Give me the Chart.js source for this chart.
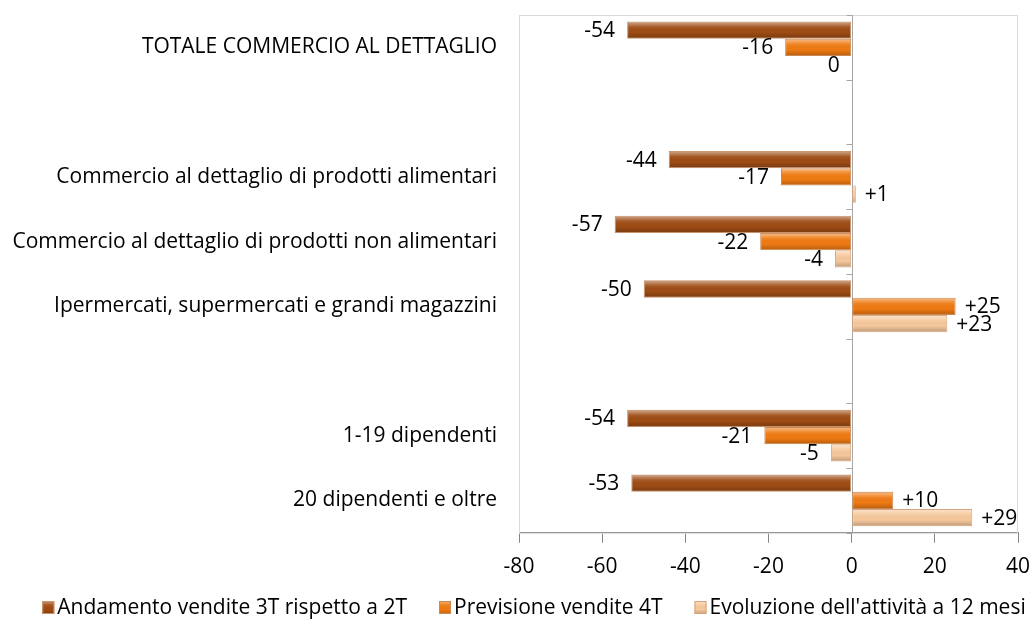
<!DOCTYPE html>
<html>
<head>
<meta charset="utf-8">
<script src="https://cdn.jsdelivr.net/npm/chart.js@4.4.1/dist/chart.umd.min.js"></script>
<style>
  html, body { margin: 0; padding: 0; background: #fff; }
  #wrap { width: 1032px; height: 623px; }
</style>
</head>
<body>
<div id="wrap"><canvas id="chart"></canvas></div>
<script>
// --- dati ---
const categories = [
  'TOTALE COMMERCIO AL DETTAGLIO',
  '',
  'Commercio al dettaglio di prodotti alimentari',
  'Commercio al dettaglio di prodotti non alimentari',
  'Ipermercati, supermercati e grandi magazzini',
  '',
  '1-19 dipendenti',
  '20 dipendenti e oltre'
];
const seriesNames = [
  'Andamento vendite 3T rispetto a 2T',
  'Previsione vendite 4T',
  "Evoluzione dell'attività a 12 mesi"
];
const andamento = [-54, null, -44, -57, -50, null, -54, -53];
const previsione = [-16, null, -17, -22, 25, null, -21, 10];
const evoluzione = [0, null, 1, -4, 23, null, -5, 29];
const xTickValues = [-80, -60, -40, -20, 0, 20, 40];

const FONT = '"Open Sans", sans-serif';
const FSIZE = 21;

// riempimento con rilievo (luce in alto, ombra in basso)
function shade(ctx, left, top, w, h) {
  const g = ctx.createLinearGradient(0, top, 0, top + h);
  g.addColorStop(0, 'rgba(255,255,255,0.45)');
  g.addColorStop(0.3, 'rgba(255,255,255,0.08)');
  g.addColorStop(0.65, 'rgba(0,0,0,0)');
  g.addColorStop(1, 'rgba(0,0,0,0.2)');
  ctx.fillStyle = g;
  ctx.fillRect(left, top, w, h);
}

// cornice dell'area del grafico + asse verticale sullo zero
const frame = {
  id: 'frame',
  beforeDatasetsDraw(chart) {
    const { ctx, chartArea: a, scales } = chart;
    ctx.save();
    ctx.strokeStyle = '#d9d9d9';
    ctx.lineWidth = 1;
    ctx.strokeRect(a.left + 0.5, a.top + 0.5, a.right - a.left - 1, a.bottom - a.top);
    const x0 = Math.round(scales.x.getPixelForValue(0)) + 0.5;
    ctx.strokeStyle = '#a6a6a6';
    ctx.beginPath();
    ctx.moveTo(x0, a.top);
    ctx.lineTo(x0, a.bottom);
    const y = scales.y;
    for (let i = 0; i <= categories.length; i++) {
      const py = Math.round(y.getPixelForValue(i - 0.5)) + 0.5;
      ctx.moveTo(x0 - 6, py);
      ctx.lineTo(x0, py);
    }
    ctx.stroke();
    ctx.restore();
  }
};

// rilievo sulle barre + etichette dei valori
const bevel = {
  id: 'bevel',
  afterDatasetsDraw(chart) {
    const { ctx } = chart;
    ctx.save();
    chart.data.datasets.forEach((ds, di) => {
      const meta = chart.getDatasetMeta(di);
      meta.data.forEach((el, i) => {
        const v = ds.data[i];
        if (v === null) return;
        const p = el.getProps(['x', 'y', 'base', 'height'], true);
        const left = Math.min(p.x, p.base), w = Math.abs(p.x - p.base);
        const top = p.y - p.height / 2, h = p.height;
        if (w > 2) shade(ctx, left + 1, top + 1, w - 2, h - 2);
        ctx.fillStyle = '#000';
        ctx.font = FSIZE + 'px ' + FONT;
        ctx.textBaseline = 'middle';
        const txt = v > 0 ? '+' + v : String(v);
        if (v > 0) {
          ctx.textAlign = 'left';
          ctx.fillText(txt, p.x + 9, p.y + 1);
        } else {
          ctx.textAlign = 'right';
          ctx.fillText(txt, left - 12, p.y + 1);
        }
      });
    });
    ctx.restore();
  }
};

// legenda in basso
const legendBottom = {
  id: 'legendBottom',
  afterDraw(chart) {
    const { ctx } = chart;
    const ds = chart.data.datasets;
    ctx.save();
    ctx.font = FSIZE + 'px ' + FONT;
    const widths = ds.map(d => ctx.measureText(d.label).width);
    const gapBox = 15, gapItem = 32;
    const total = widths.reduce((s, w) => s + w + gapBox, 0) + gapItem * (ds.length - 1);
    let x = 534 - total / 2;
    const y = 607;
    ds.forEach((d, i) => {
      ctx.fillStyle = d.backgroundColor;
      ctx.fillRect(x, y - 6, 12, 13);
      shade(ctx, x, y - 6, 12, 13);
      ctx.strokeStyle = d.borderColor;
      ctx.strokeRect(x + 0.5, y - 5.5, 11, 12);
      ctx.fillStyle = '#000';
      ctx.textAlign = 'left';
      ctx.textBaseline = 'middle';
      ctx.fillText(d.label, x + gapBox, y + 1);
      x += gapBox + widths[i] + gapItem;
    });
    ctx.restore();
  }
};

new Chart(document.getElementById('chart'), {
  type: 'bar',
  data: {
    labels: categories,
    datasets: [
      { label: seriesNames[0], data: andamento, backgroundColor: '#9e4c14', borderColor: '#c8936c' },
      { label: seriesNames[1], data: previsione, backgroundColor: '#ef7a12', borderColor: '#c98a5a' },
      { label: seriesNames[2], data: evoluzione, backgroundColor: '#f6c89c', borderColor: '#d6a57c' }
    ]
  },
  options: {
    indexAxis: 'y',
    responsive: true,
    maintainAspectRatio: false,
    animation: false,
    layout: { padding: { left: 5, right: 14, top: 15, bottom: 31 } },
    datasets: { bar: { categoryPercentage: 0.8, barPercentage: 1.0, borderWidth: 1, borderSkipped: false } },
    scales: {
      x: {
        min: -80, max: 40,
        afterBuildTicks(s) { s.ticks = xTickValues.map(v => ({ value: v })); },
        afterFit(s) { s.paddingLeft = 0; s.paddingRight = 0; },
        grid: { drawOnChartArea: false, drawTicks: true, tickLength: 10, color: '#868686' },
        border: { display: true, color: '#868686' },
        ticks: { color: '#000', font: { family: FONT, size: FSIZE }, padding: 12 }
      },
      y: {
        afterFit(s) { s.width = 514; s.paddingTop = 0; s.paddingBottom = 0; },
        grid: { display: false },
        border: { display: false },
        ticks: { color: '#000', font: { family: FONT, size: FSIZE }, padding: 14, autoSkip: false }
      }
    },
    plugins: {
      legend: { display: false },
      tooltip: { enabled: false }
    }
  },
  plugins: [frame, bevel, legendBottom]
});
</script>
</body>
</html>
